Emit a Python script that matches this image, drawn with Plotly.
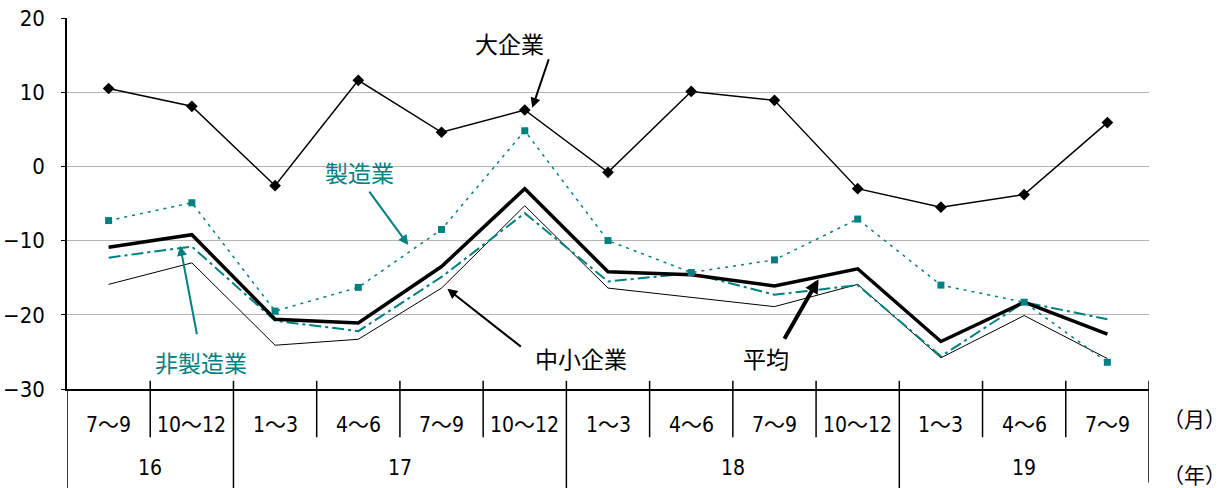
import plotly.graph_objects as go

quarters = ["7～9", "10～12", "1～3", "4～6", "7～9", "10～12", "1～3", "4～6", "7～9", "10～12", "1～3", "4～6", "7～9"]
years = ["16", "17", "18", "19"]
year_span = [(0, 1), (2, 5), (6, 9), (10, 12)]

large = [10.5, 8.1, -2.6, 11.6, 4.6, 7.6, -0.8, 10.1, 8.9, -3.0, -5.5, -3.8, 5.9]
manuf = [-7.3, -4.9, -19.5, -16.3, -8.5, 4.8, -10.0, -14.3, -12.6, -7.1, -16.0, -18.3, -26.4]
average = [-10.9, -9.2, -20.6, -21.1, -13.5, -3.0, -14.2, -14.6, -16.1, -13.8, -23.6, -18.3, -22.6]
small = [-15.9, -13.0, -24.1, -23.3, -16.4, -5.3, -16.4, -17.6, -18.9, -15.9, -25.8, -20.1, -25.9]
nonmanuf = [-12.3, -10.8, -20.8, -22.2, -14.9, -6.3, -15.5, -14.4, -17.3, -16.0, -25.6, -18.3, -20.6]

TEAL = "#008080"
CJK = "Noto Sans CJK JP"
NUM = "DejaVu Sans Condensed, Noto Sans CJK JP"
xs = list(range(len(quarters)))

fig = go.Figure()
fig.add_trace(go.Scatter(x=xs, y=small, mode="lines", line=dict(color="black", width=1)))
fig.add_trace(go.Scatter(x=xs, y=nonmanuf, mode="lines",
                         line=dict(color=TEAL, width=2, dash="12px,4px,3px,4px")))
fig.add_trace(go.Scatter(x=xs, y=average, mode="lines", line=dict(color="black", width=3.5)))
fig.add_trace(go.Scatter(x=xs, y=manuf, mode="lines+markers",
                         line=dict(color=TEAL, width=1.5, dash="3px,5px"),
                         marker=dict(symbol="square", size=7, color=TEAL)))
fig.add_trace(go.Scatter(x=xs, y=large, mode="lines+markers", line=dict(color="black", width=1.5),
                         marker=dict(symbol="diamond", size=9, color="black")))

shapes = []
year_bounds = [-0.5, 1.5, 5.5, 9.5, 12.5]
for k in range(1, len(quarters)):
    b = k - 0.5
    if b in year_bounds:
        continue
    shapes.append(dict(type="line", xref="x", yref="paper", x0=b, x1=b, y0=0.022, y1=-0.13,
                       line=dict(color="black", width=1.5)))
for b in year_bounds:
    y1 = -0.27 if b < 12 else -0.252
    shapes.append(dict(type="line", xref="x", yref="paper", x0=b, x1=b, y0=0.022 if b > 0 else 0, y1=y1,
                       line=dict(color="black", width=1.5)))

ann = []
for i, q in enumerate(quarters):
    ann.append(dict(x=i, y=-0.097, xref="x", yref="paper", text=q, showarrow=False,
                    xanchor="center", yanchor="middle", font=dict(size=21, color="black", family=NUM)))
for yl, (a, b) in zip(years, year_span):
    ann.append(dict(x=(a + b) / 2, y=-0.212, xref="x", yref="paper", text=yl, showarrow=False,
                    xanchor="center", yanchor="middle", font=dict(size=21, color="black", family=NUM)))
ann.append(dict(x=1.0425, y=-0.078, xref="paper", yref="paper", text="（月）", showarrow=False,
                xanchor="center", yanchor="middle", font=dict(size=21, color="black", family=CJK)))
ann.append(dict(x=1.0425, y=-0.229, xref="paper", yref="paper", text="（年）", showarrow=False,
                xanchor="center", yanchor="middle", font=dict(size=21, color="black", family=CJK)))

# series labels
labels = [
    ("大企業", 4.82, 16.6, "black"),
    ("製造業", 3.02, -0.7, TEAL),
    ("非製造業", 1.11, -26.3, TEAL),
    ("中小企業", 5.67, -25.8, "black"),
    ("平均", 7.9, -25.8, "black"),
]
for t, x, y, c in labels:
    ann.append(dict(x=x, y=y, text=t, showarrow=False, xanchor="center", yanchor="middle",
                    font=dict(size=23, color=c, family=CJK)))

arrows = [
    (5.09, 7.9, 17, -50, "black", 2),
    (3.6, -10.6, -40, -55, TEAL, 2),
    (0.86, -10.7, 17, 90, TEAL, 2),
    (4.07, -16.5, 75, 59, "black", 2),
    (8.53, -15.2, -35, 61, "black", 4),
]
for x, y, ax, ay, c, w in arrows:
    ann.append(dict(x=x, y=y, ax=ax, ay=ay, text="", showarrow=True, arrowhead=2,
                    arrowsize=1 if w < 3 else 0.7, arrowwidth=w, arrowcolor=c))

fig.update_layout(
    width=1231, height=488,
    margin=dict(l=67, r=82, t=18, b=99, autoexpand=False),
    paper_bgcolor="white", plot_bgcolor="white",
    showlegend=False,
    shapes=shapes, annotations=ann,
    font=dict(family=CJK, color="black"),
)
fig.update_xaxes(range=[-0.5, 12.5], showticklabels=False, showgrid=False, zeroline=False,
                 showline=True, linecolor="black", linewidth=2, ticks="", automargin=False)
fig.update_yaxes(range=[-30, 20], tickvals=[-30, -20, -10, 0, 10, 20],
                 ticktext=["−30", "−20", "−10", "0", "10", "20"], automargin=False,
                 showgrid=True, gridcolor="#b4b4b4", gridwidth=1, zeroline=False,
                 showline=True, linecolor="black", linewidth=1.5, ticks="outside", ticklen=4,
                 tickcolor="black", ticklabelstandoff=12,
                 tickfont=dict(size=22, family=NUM, color="black"))

fig.write_html("out.html")
